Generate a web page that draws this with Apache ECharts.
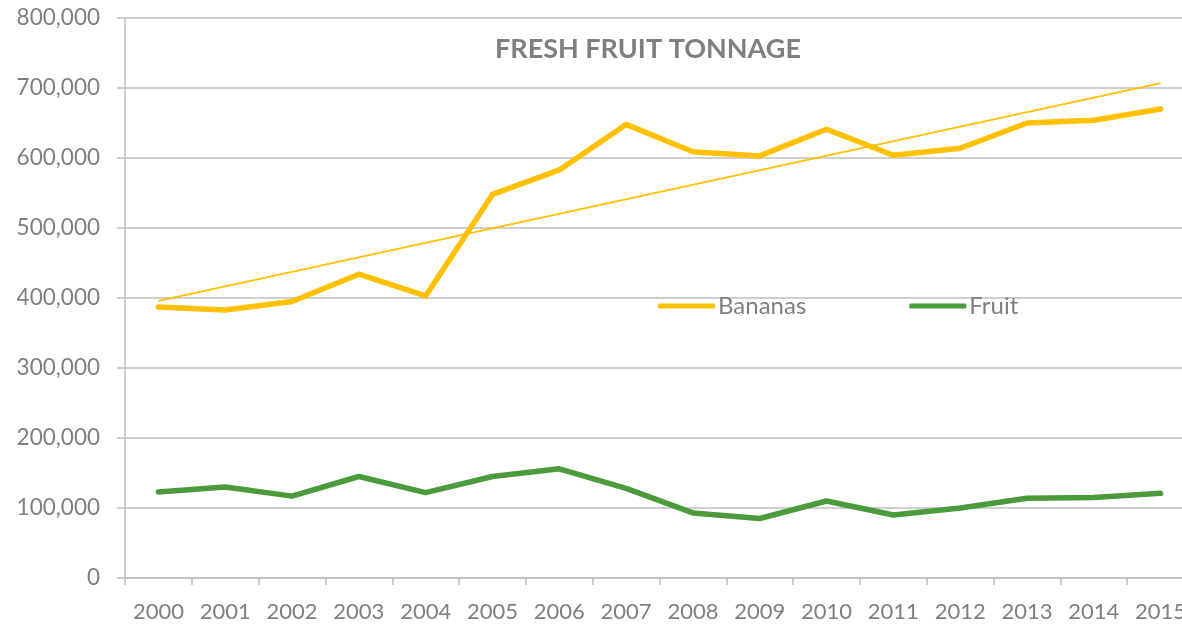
<!DOCTYPE html>
<html>
<head>
<meta charset="utf-8">
<script src="https://cdn.jsdelivr.net/npm/echarts@6/dist/echarts.min.js"></script>
<style>
html,body{margin:0;padding:0;background:#fff;}
#main{width:1182px;height:625px;}
</style>
</head>
<body>
<div id="main"></div>
<script>
var years = ['2000','2001','2002','2003','2004','2005','2006','2007','2008','2009','2010','2011','2012','2013','2014','2015'];
var bananas = [387000, 383000, 395000, 434000, 403000, 548000, 583000, 648000, 609000, 603000, 641000, 604000, 614000, 650000, 654000, 670000];
var fruit = [123000, 130000, 117000, 145000, 122000, 145000, 156000, 128000, 93000, 85000, 110000, 90000, 100000, 114000, 115000, 121000];
// trendline at its two ends
var trendBananas = [396000, null, null, null, null, null, null, null, null, null, null, null, null, null, null, 707000];

var textColor = '#7f7f7f';
var gridColor = '#bfbfbf';
var font = 'Lato';

var myChart = echarts.init(document.getElementById('main'));

var option = {
    animation: false,
    title: {
        text: 'FRESH FRUIT TONNAGE',
        left: 490,
        top: 31,
        textStyle: {
            color: textColor,
            fontFamily: font,
            fontWeight: 'bold',
            fontSize: 27
        }
    },
    legend: {
        data: ['Bananas', 'Fruit'],
        left: 658,
        top: 294,
        padding: 0,
        icon: 'roundRect',
        itemWidth: 57,
        itemHeight: 5,
        itemGap: 103,
        textStyle: {
            color: textColor,
            fontFamily: font,
            fontSize: 24,
            padding: [0, 0, 0, -2]
        }
    },
    grid: {
        left: 125,
        right: -12,
        top: 18,
        bottom: 47,
        outerBoundsMode: 'none'
    },
    xAxis: {
        type: 'category',
        data: years,
        boundaryGap: true,
        axisLine: {lineStyle: {color: gridColor, width: 1.5}},
        axisTick: {show: true, length: 7, lineStyle: {color: gridColor, width: 1.5}},
        axisLabel: {
            interval: 0,
            color: textColor,
            fontFamily: font,
            fontSize: 22,
            margin: 23
        }
    },
    yAxis: {
        type: 'value',
        min: 0,
        max: 800000,
        interval: 100000,
        axisLine: {show: true, lineStyle: {color: gridColor, width: 1.5}},
        axisTick: {show: true, length: 8, lineStyle: {color: gridColor, width: 1.5}},
        splitLine: {lineStyle: {color: gridColor, width: 1.5}},
        axisLabel: {
            color: textColor,
            fontFamily: font,
            fontSize: 22.5,
            margin: 25,
            formatter: function (v) {
                return v.toString().replace(/\B(?=(\d{3})+(?!\d))/g, ',');
            }
        }
    },
    series: [
        {
            name: 'Bananas',
            type: 'line',
            data: bananas,
            symbol: 'none',
            lineStyle: {color: '#ffc000', width: 5.5, cap: 'round', join: 'round'},
            itemStyle: {color: '#ffc000'},
            z: 3
        },
        {
            name: 'Fruit',
            type: 'line',
            data: fruit,
            symbol: 'none',
            lineStyle: {color: '#4b9a3b', width: 5.5, cap: 'round', join: 'round'},
            itemStyle: {color: '#4b9a3b'},
            z: 3
        },
        {
            name: 'Trend',
            type: 'line',
            data: trendBananas,
            connectNulls: true,
            symbol: 'none',
            lineStyle: {color: '#ffc000', width: 1.8},
            z: 2
        }
    ]
};

myChart.setOption(option);
</script>
</body>
</html>
